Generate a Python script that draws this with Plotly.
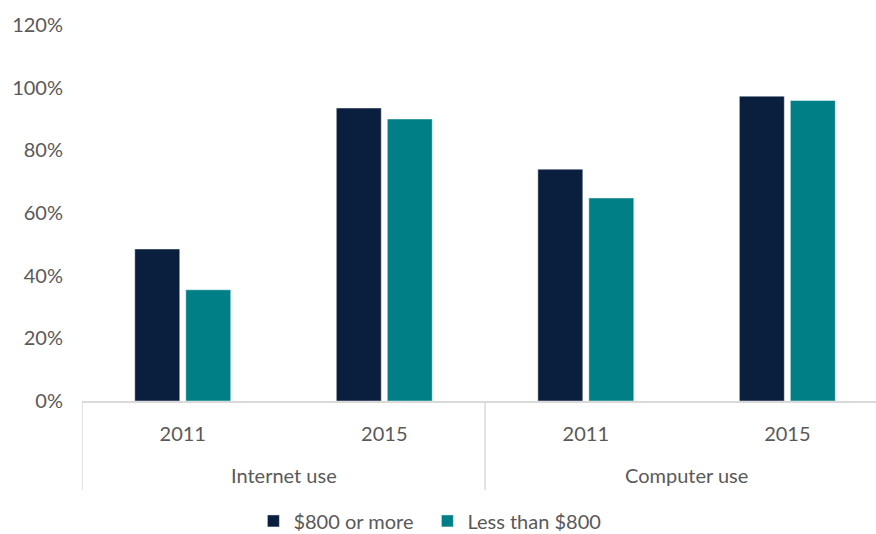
import plotly.graph_objects as go

# Share of people using the internet / a computer, by weekly household income
groups = ["Internet use", "Computer use"]
years = ["2011", "2015", "2011", "2015"]
high_income = [0.485, 0.935, 0.74, 0.973]   # $800 or more
low_income = [0.355, 0.90, 0.648, 0.959]    # Less than $800
series_names = ["$800 or more", "Less than $800"]
y_ticks = [0, 0.2, 0.4, 0.6, 0.8, 1.0, 1.2]

NAVY = "#0a1f3e"
TEAL = "#008086"
GREY_TEXT = "#595959"
AXIS_GREY = "#d9d9d9"
FONT = "Lato, sans-serif"

x_pos = list(range(len(years)))

fig = go.Figure()
for name, vals, col in zip(series_names, [high_income, low_income], [NAVY, TEAL]):
    fig.add_trace(go.Bar(
        x=x_pos, y=vals, name=name,
        marker=dict(color=col, line=dict(color="rgba(255,255,255,0.45)", width=1)),
        hoverinfo="skip",
    ))

# group labels under the year labels
for i, g in enumerate(groups):
    fig.add_annotation(x=2 * i + 0.5, xref="x", y=-0.197, yref="paper",
                       text=g, showarrow=False, yanchor="middle",
                       font=dict(family=FONT, size=20, color=GREY_TEXT))

# vertical dividers between the groups
for xb in [-0.5, 1.5, 3.5]:
    fig.add_shape(type="line", xref="x", yref="paper", x0=xb, x1=xb,
                  y0=0, y1=-0.237, line=dict(color=AXIS_GREY, width=1.5))

fig.update_layout(
    width=876, height=534,
    margin=dict(l=82, r=0, t=25, b=133, autoexpand=False),
    paper_bgcolor="white", plot_bgcolor="white",
    barmode="group", bargap=0.494, bargroupgap=0.118,
    font=dict(family=FONT, size=20, color=GREY_TEXT),
    showlegend=True,
    legend=dict(orientation="h", x=0.435, xanchor="center", y=-0.319, yanchor="middle",
                entrywidth=129, entrywidthmode="pixels",
                font=dict(family=FONT, size=20, color=GREY_TEXT), itemclick=False),
    xaxis=dict(range=[-0.5, 3.44], tickvals=x_pos, ticktext=years,
               showline=True, linecolor=AXIS_GREY, linewidth=1.5,
               ticks="", showgrid=False, zeroline=False, ticklabelstandoff=14,
               tickfont=dict(family=FONT, size=20, color=GREY_TEXT)),
    yaxis=dict(range=[0, 1.2], tickvals=y_ticks, tickformat=".0%",
               showgrid=False, zeroline=False, showline=False, ticks="",
               ticklabelstandoff=18,
               tickfont=dict(family=FONT, size=20, color=GREY_TEXT)),
)

fig.write_html("out.html")
